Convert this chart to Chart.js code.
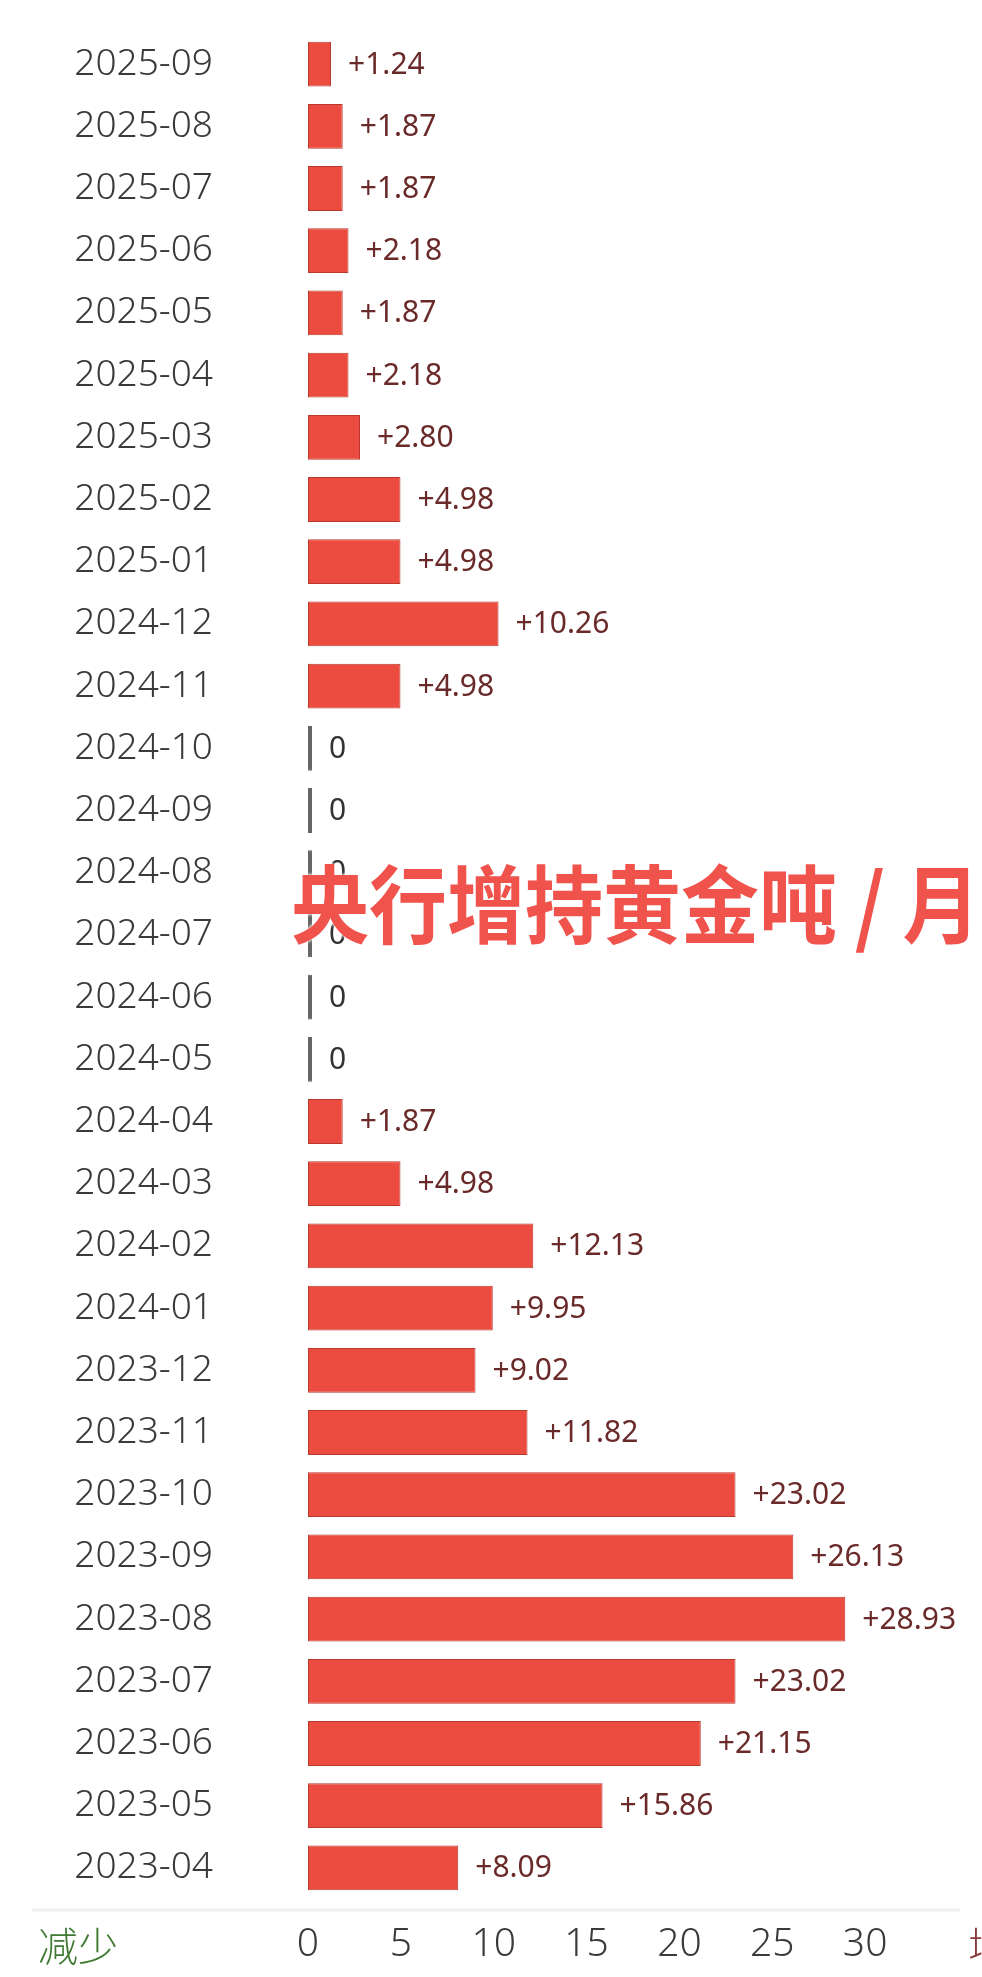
<!DOCTYPE html>
<html>
<head>
<meta charset="utf-8">
<script src="https://cdn.jsdelivr.net/npm/chart.js@4"></script>
<style>
  body { margin: 0; background: #fff; overflow: hidden; }
  .wrap { position: relative; width: 982px; height: 1977px; overflow: hidden; }
  .title {
    position: absolute; left: 291px; top: 858px;
    font: bold 78px "Noto Sans CJK SC", sans-serif; line-height: 84px;
    color: #f0524c; white-space: nowrap;
    transform: scaleY(1.1); transform-origin: left center;
    text-shadow: 0 0 3px #fff, 0 0 3px #fff;
  }
  .side { position: absolute; top: 1920px; font: 300 40px "Noto Sans CJK SC", sans-serif; line-height: 48px; white-space: nowrap; }
  .down { left: 38px; color: #3f7a32; }
  .up { left: 968px; color: #8b3b3b; }
</style>
</head>
<body>
<div class="wrap">
  <canvas id="chart" width="982" height="1977"></canvas>
  <div class="title">央行增持黄金吨 / 月</div>
  <div class="side down">减少</div>
  <div class="side up">增加</div>
</div>
<script>
const months = ['2025-09', '2025-08', '2025-07', '2025-06', '2025-05', '2025-04', '2025-03', '2025-02', '2025-01',
    '2024-12', '2024-11', '2024-10', '2024-09', '2024-08', '2024-07', '2024-06', '2024-05', '2024-04', '2024-03',
    '2024-02', '2024-01', '2023-12', '2023-11', '2023-10', '2023-09', '2023-08', '2023-07', '2023-06', '2023-05', '2023-04'];
const tonnes = [1.24, 1.87, 1.87, 2.18, 1.87, 2.18, 2.80, 4.98, 4.98,
    10.26, 4.98, 0, 0, 0, 0, 0, 0, 1.87, 4.98,
    12.13, 9.95, 9.02, 11.82, 23.02, 26.13, 28.93, 23.02, 21.15, 15.86, 8.09];
const xTicks = [0, 5, 10, 15, 20, 25, 30];

// value text next to each bar
const valueLabels = {
    id: 'valueLabels',
    afterDatasetsDraw(chart) {
        const ctx = chart.ctx;
        const meta = chart.getDatasetMeta(0);
        ctx.save();
        ctx.font = '30px "Noto Sans", sans-serif';
        ctx.textBaseline = 'middle';
        ctx.textAlign = 'left';
        meta.data.forEach((bar, i) => {
            const v = tonnes[i];
            ctx.fillStyle = v === 0 ? '#333333' : '#6a2a2a';
            ctx.fillText(v === 0 ? '0' : '+' + v.toFixed(2), bar.x + 17, bar.y + 1);
        });
        ctx.restore();
    }
};

// faint line above the axis labels
const baseLine = {
    id: 'baseLine',
    afterDraw(chart) {
        const ctx = chart.ctx;
        const y = chart.chartArea.bottom + 11;
        ctx.save();
        ctx.strokeStyle = '#efefef';
        ctx.lineWidth = 3;
        ctx.beginPath();
        ctx.moveTo(32, y);
        ctx.lineTo(960, y);
        ctx.stroke();
        ctx.restore();
    }
};

new Chart(document.getElementById('chart'), {
    type: 'bar',
    data: {
        labels: months,
        datasets: [{
            data: tonnes,
            backgroundColor: ctx => tonnes[ctx.dataIndex] === 0 ? '#666666' : '#eb4c3f',
            borderColor: ctx => tonnes[ctx.dataIndex] === 0 ? '#666666' : '#b9382d',
            borderWidth: 1,
            borderSkipped: false,
            minBarLength: 4,
            categoryPercentage: 1,
            barPercentage: 0.72
        }]
    },
    options: {
        indexAxis: 'y',
        responsive: false,
        animation: false,
        layout: { padding: { top: 33, right: 24, left: 0, bottom: 0 } },
        plugins: { legend: { display: false }, tooltip: { enabled: false } },
        scales: {
            x: {
                min: 0,
                max: 35,
                grid: { display: false, drawTicks: false },
                border: { display: false },
                afterFit: scale => { scale.height = 78; },
                afterBuildTicks: scale => { scale.ticks = xTicks.map(v => ({ value: v })); },
                ticks: {
                    padding: 22,
                    color: '#3a3a3a',
                    font: { family: '"Noto Sans", sans-serif', size: 39, weight: '300' }
                }
            },
            y: {
                grid: { display: false, drawTicks: false },
                border: { display: false },
                afterFit: scale => {
                    scale.width = 308;
                    // tick padding would otherwise push the plot down
                    scale.paddingTop = 0;
                    scale.paddingBottom = 0;
                },
                ticks: {
                    padding: 95,
                    color: '#3a3a3a',
                    font: { family: '"Noto Sans", sans-serif', size: 37, weight: '300' }
                }
            }
        }
    },
    plugins: [valueLabels, baseLine]
});
</script>
</body>
</html>
